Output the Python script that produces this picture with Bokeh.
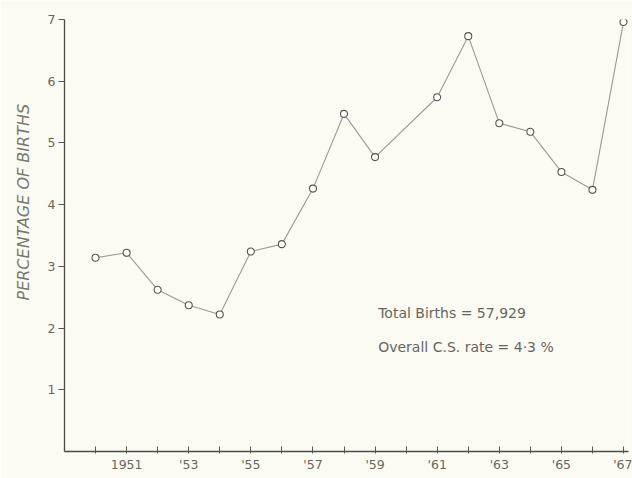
from bokeh.plotting import figure
from bokeh.models import FixedTicker, Range1d, Label, Title
from bokeh.embed import file_html
from bokeh.resources import INLINE

years = [1950, 1951, 1952, 1953, 1954, 1955, 1956, 1957, 1958, 1959,
         1961, 1962, 1963, 1964, 1965, 1966, 1967]
rates = [3.14, 3.22, 2.62, 2.37, 2.22, 3.24, 3.36, 4.26, 5.47, 4.77,
         5.74, 6.73, 5.32, 5.18, 4.53, 4.24, 6.96]
x_ticks = list(range(1950, 1968))
x_tick_labels = {1951: "1951", 1953: "'53", 1955: "'55", 1957: "'57", 1959: "'59",
                 1961: "'61", 1963: "'63", 1965: "'65", 1967: "'67"}
y_ticks = [1, 2, 3, 4, 5, 6, 7]
y_title = "PERCENTAGE OF BIRTHS"
notes = ["Total Births = 57,929", "Overall C.S. rate = 4\u00b73 %"]

BG = "#fcfbf3"
INK = "#66665f"
FONT = "DejaVu Sans"

p = figure(width=632, height=478, output_backend="svg", toolbar_location=None,
           x_range=Range1d(1949, 1967.16), y_range=Range1d(0, 7.0),
           background_fill_color=BG, border_fill_color=BG,
           min_border_left=63, min_border_right=4, min_border_top=19, min_border_bottom=27)
p.outline_line_color = None
p.grid.visible = False

p.line(years, rates, line_color="#9a9a92", line_width=1.1)
p.scatter(years, rates, size=7, marker="circle", fill_color="white",
          line_color="#55554f", line_width=1.1)

xa = p.xaxis[0]
xa.ticker = FixedTicker(ticks=x_ticks)
xa.major_label_overrides = {t: x_tick_labels.get(t, "") for t in x_ticks}
xa.major_tick_in = 5
xa.major_tick_out = 2
xa.minor_tick_line_color = None
xa.axis_line_color = "#4a4a46"
xa.axis_line_width = 1.3
xa.major_tick_line_color = "#55554f"
xa.major_label_text_font = FONT
xa.major_label_text_font_size = "12.5px"
xa.major_label_text_color = INK
xa.major_label_standoff = 3

ya = p.yaxis[0]
ya.ticker = FixedTicker(ticks=y_ticks)
ya.major_tick_in = 0
ya.major_tick_out = 6
ya.minor_tick_line_color = None
ya.axis_line_color = "#4a4a46"
ya.axis_line_width = 1.3
ya.major_tick_line_color = "#55554f"
ya.major_label_text_font = FONT
ya.major_label_text_font_size = "12.5px"
ya.major_label_text_color = INK
ya.major_label_standoff = 3

p.add_layout(Title(text=y_title, align="left", offset=151, text_font=FONT,
                   text_font_style="italic", text_font_size="16px",
                   text_color="#77776f", standoff=23), "left")

p.add_layout(Label(x=1959.1, y=2.25, text=notes[0], text_font=FONT, text_font_size="14px",
                   text_color=INK, text_align="left", text_baseline="middle"))
p.add_layout(Label(x=1959.1, y=1.69, text=notes[1], text_font=FONT, text_font_size="14px",
                   text_color=INK, text_align="left", text_baseline="middle"))

open("out.html", "w").write(file_html(p, INLINE))
